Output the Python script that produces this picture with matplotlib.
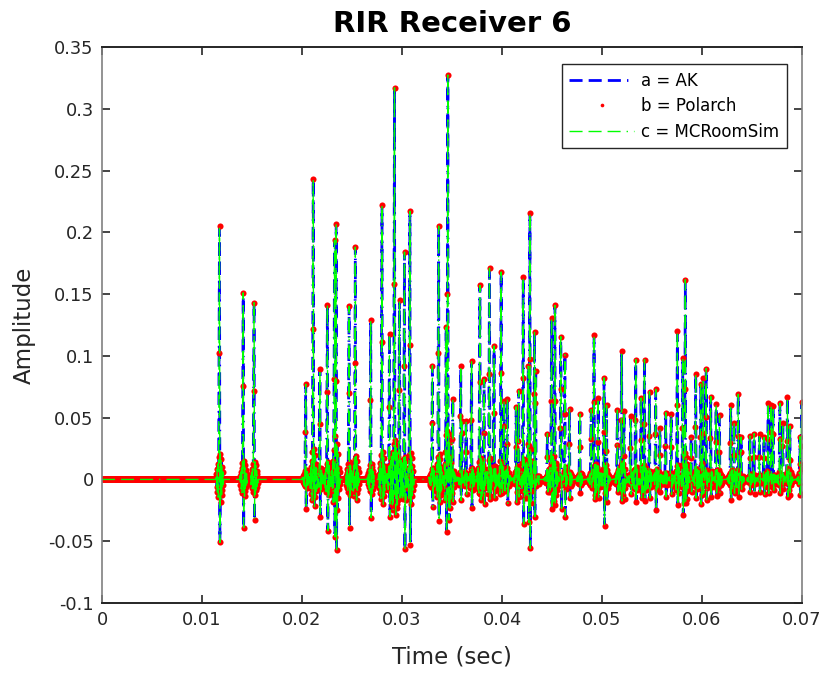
import numpy as np
import matplotlib.pyplot as plt

fs = 24000          # sample rate (Hz)
t_end = 0.07        # plotted length (s)

# reflection arrivals: time (s), positive peak, following trough
refl_time = [0.01173, 0.01413, 0.01520, 0.02037, 0.02113, 0.02180, 0.02253, 0.02323,
             0.02340, 0.02470, 0.02533, 0.02687, 0.02800, 0.02873, 0.02927, 0.02977,
             0.03027, 0.03080, 0.03303, 0.03367, 0.03440, 0.03457, 0.03507, 0.03587,
             0.03600, 0.03640, 0.03697, 0.03780, 0.03820, 0.03873, 0.03920, 0.03990,
             0.04020, 0.04053, 0.04140, 0.04167, 0.04213, 0.04263, 0.04280, 0.04323,
             0.04337, 0.04453, 0.04497, 0.04530, 0.04587, 0.04593, 0.04630, 0.04673,
             0.04780, 0.04890, 0.04920, 0.04963, 0.05020, 0.05047, 0.05153, 0.05197,
             0.05220, 0.05287, 0.05337, 0.05390, 0.05423, 0.05473, 0.05537, 0.05580,
             0.05637, 0.05690, 0.05753, 0.05807, 0.05833, 0.05890, 0.05937, 0.05987,
             0.06013, 0.06040, 0.06087, 0.06140, 0.06173, 0.06287, 0.06320, 0.06363,
             0.06390, 0.06480, 0.06520, 0.06573, 0.06620, 0.06663, 0.06690, 0.06713,
             0.06780, 0.06807, 0.06853, 0.06880, 0.06980, 0.06995]
refl_peak = [0.205, 0.151, 0.143, 0.077, 0.243, 0.089, 0.141, 0.182,
             0.192, 0.140, 0.188, 0.129, 0.222, 0.118, 0.317, 0.145,
             0.184, 0.217, 0.092, 0.205, 0.104, 0.319, 0.065, 0.096,
             0.056, 0.047, 0.096, 0.157, 0.081, 0.171, 0.108, 0.170,
             0.069, 0.063, 0.056, 0.069, 0.164, 0.079, 0.209, 0.126,
             0.099, 0.037, 0.128, 0.137, 0.064, 0.103, 0.103, 0.057,
             0.053, 0.060, 0.119, 0.066, 0.080, 0.056, 0.056, 0.102,
             0.050, 0.051, 0.097, 0.064, 0.095, 0.071, 0.073, 0.042,
             0.054, 0.053, 0.120, 0.092, 0.157, 0.034, 0.085, 0.074,
             0.081, 0.093, 0.067, 0.060, 0.050, 0.059, 0.044, 0.070,
             0.037, 0.035, 0.037, 0.037, 0.034, 0.064, 0.066, 0.063,
             0.063, 0.048, 0.065, 0.040, 0.031, 0.060]
refl_trough = [-0.051, -0.039, -0.033, -0.024, -0.008, -0.030, -0.0415, -0.033,
               -0.046, -0.039, -0.008, -0.031, -0.006, -0.030, -0.012, -0.015,
               -0.0566, -0.053, -0.022, -0.034, -0.020, -0.006, -0.018, -0.022,
               -0.012, -0.012, -0.023, -0.012, -0.020, -0.016, -0.015, -0.010,
               -0.012, -0.018, -0.015, -0.012, -0.036, -0.020, -0.051, -0.039,
               -0.015, -0.010, -0.020, -0.018, -0.030, -0.032, -0.030, -0.015,
               -0.011, -0.012, -0.018, -0.015, -0.035, -0.015, -0.010, -0.015,
               -0.012, -0.012, -0.018, -0.012, -0.016, -0.015, -0.025, -0.010,
               -0.014, -0.012, -0.021, -0.021, -0.015, -0.010, -0.015, -0.016,
               -0.012, -0.019, -0.014, -0.012, -0.010, -0.015, -0.010, -0.016,
               -0.010, -0.010, -0.012, -0.010, -0.012, -0.014, -0.012, -0.012,
               -0.013, -0.010, -0.012, -0.010, -0.008, -0.010]

# ringing around an arrival, relative to its peak (peak = 1.0, trough sample follows it)
pulse_shape = [0.02, -0.03, 0.04, -0.05, 0.06, -0.07, 0.09, 0.50,
               1.0, 0.0, 0.10, -0.09, 0.08, -0.06, 0.05, -0.04, 0.03, -0.02]

xticks = [0, 0.01, 0.02, 0.03, 0.04, 0.05, 0.06, 0.07]
yticks = [-0.1, -0.05, 0, 0.05, 0.1, 0.15, 0.2, 0.25, 0.3, 0.35]


def build_rir():
    t = np.arange(int(round(t_end * fs)) + 1) / fs
    h = np.zeros_like(t)
    centre = pulse_shape.index(1.0)
    for tr, pk, tg in zip(refl_time, refl_peak, refl_trough):
        i = int(round(tr * fs))
        for k, v in enumerate(pulse_shape):
            j = i - centre + k
            if 0 <= j < len(h):
                h[j] += v * pk
        if i + 1 < len(h):
            h[i + 1] += tg
    return t, h


t, ak = build_rir()
polarch = ak.copy()
mcroomsim = ak.copy()

fig = plt.figure(figsize=(8.27, 6.77), dpi=100)
ax = fig.add_axes([102 / 827, 1 - 603 / 677, 700 / 827, 556 / 677])

ax.plot(t, ak, color=(0, 0, 1), lw=2,
        dashes=[4.7, 2.2, 4.7, 2.2, 4.7, 2.2, 0.5, 2.2], label='a = AK')
ax.plot(t, polarch, ls='none', marker='o', ms=4.4, mew=0, color=(1, 0, 0),
        label='b = Polarch')
ax.plot(t, mcroomsim, color=(0, 1, 0), lw=1,
        dashes=[9.4, 4.3, 9.4, 4.3, 9.4, 4.3, 1.0, 4.3], label='c = MCRoomSim')

ax.set_xlim(0, 0.07)
ax.set_ylim(-0.1, 0.35)
ax.set_xticks(xticks)
ax.set_xticklabels([f'{v:g}' for v in xticks])
ax.set_yticks(yticks)
ax.set_yticklabels([f'{v:g}' for v in yticks])
ax.tick_params(direction='in', length=5.5, width=1.2, top=True, right=True,
               labelsize=12.8, pad=6, colors='#262626')

for side in ['top', 'bottom']:
    ax.spines[side].set_color('#262626')
    ax.spines[side].set_linewidth(1.4)
for side in ['left', 'right']:
    ax.spines[side].set_color('#808080')
    ax.spines[side].set_linewidth(1.2)

ax.set_title('RIR Receiver 6', fontsize=21, fontweight='bold', pad=10.5)
ax.set_xlabel('Time (sec)', fontsize=16.5, labelpad=12, color='#262626')
ax.set_ylabel('Amplitude', fontsize=16.5, labelpad=9, color='#262626')

leg = ax.legend(loc='upper right', bbox_to_anchor=(0.978, 0.969), borderaxespad=0,
                fontsize=12, handlelength=3.9, handletextpad=0.4, labelspacing=0.45,
                fancybox=False, framealpha=1, edgecolor='#262626', markerscale=0.6,
                borderpad=0.45)
leg.get_frame().set_linewidth(1.0)

fig.savefig('out.png', dpi=100)
